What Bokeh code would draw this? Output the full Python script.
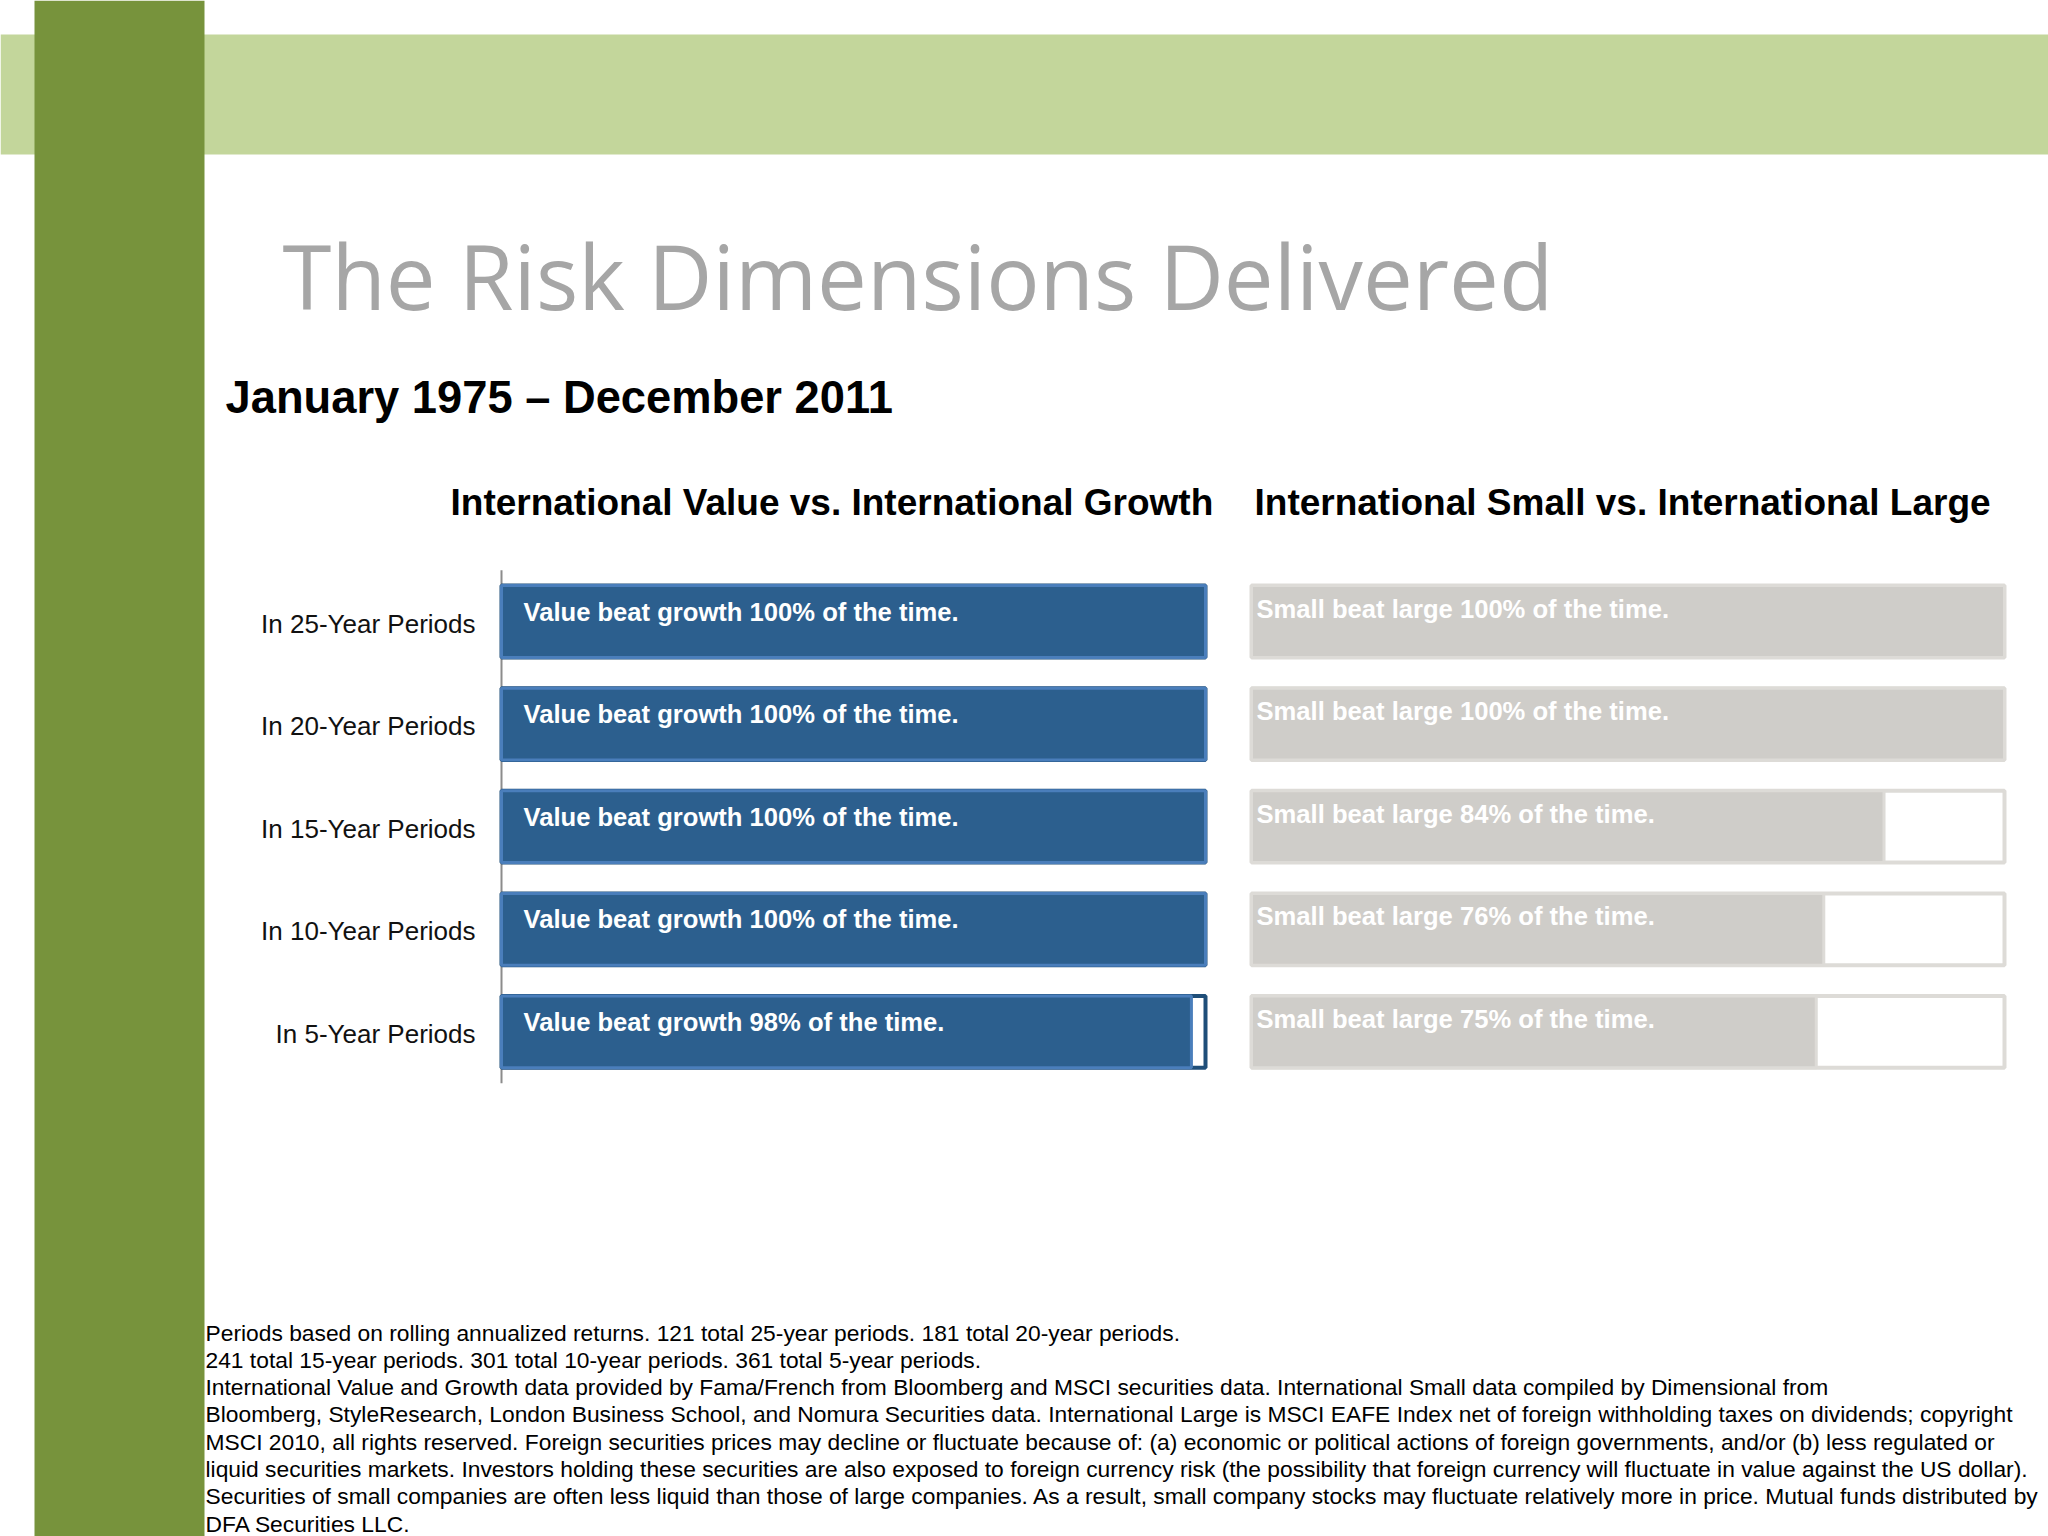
from bokeh.plotting import figure
from bokeh.models import Range1d
from bokeh.core.properties import value
from bokeh.embed import file_html
from bokeh.resources import INLINE

# ---------------- data ----------------
periods = ["In 25-Year Periods", "In 20-Year Periods", "In 15-Year Periods",
           "In 10-Year Periods", "In 5-Year Periods"]
value_beat_growth = [100, 100, 100, 100, 98]
small_beat_large = [100, 100, 84, 76, 75]
total_pct = [100, 100, 100, 100, 100]

main_title = "The Risk Dimensions Delivered"
subtitle = "January 1975 \u2013 December 2011"
left_title = "International Value vs. International Growth"
right_title = "International Small vs. International Large"

footnotes = [
    "Periods based on rolling annualized returns. 121 total 25-year periods. 181 total 20-year periods.",
    "241 total 15-year periods. 301 total 10-year periods. 361 total 5-year periods.",
    "International Value and Growth data provided by Fama/French from Bloomberg and MSCI securities data. International Small data compiled by Dimensional from",
    "Bloomberg, StyleResearch, London Business School, and Nomura Securities data. International Large is MSCI EAFE Index net of foreign withholding taxes on dividends; copyright",
    "MSCI 2010, all rights reserved. Foreign securities prices may decline or fluctuate because of: (a) economic or political actions of foreign governments, and/or (b) less regulated or",
    "liquid securities markets. Investors holding these securities are also exposed to foreign currency risk (the possibility that foreign currency will fluctuate in value against the US dollar).",
    "Securities of small companies are often less liquid than those of large companies. As a result, small company stocks may fluctuate relatively more in price. Mutual funds distributed by",
    "DFA Securities LLC.",
]

# ---------------- styling ----------------
DARK_GREEN = "#77933C"
LIGHT_GREEN = "#C3D69B"
TITLE_GRAY = "#A6A6A6"
BLUE = "#2C5F8E"
BLUE_EDGE = "#4A7EBB"
NAVY_EDGE = "#1F4E79"
GREY = "#CFCDC9"
GREY_EDGE = "#DDDBD7"
ARIAL = value("Liberation Sans")

W, H = 2048, 1536
PX0, PX1 = 0, W      # page x covered by the canvas
PY0, PY1 = 0, H      # page y covered by the canvas


def lin_range(p0, p1, v0, v1, lo, hi):
    k = (v1 - v0) / (p1 - p0)
    return Range1d(v0 + (lo - p0) * k, v0 + (hi - p0) * k)


p = figure(width=W, height=H, output_backend="svg", toolbar_location=None,
           x_range=Range1d(PX0, PX1), y_range=Range1d(PY1, PY0),
           x_axis_location=None, y_axis_location=None, min_border=0)
p.grid.visible = False
p.outline_line_color = None
p.background_fill_color = "white"
p.border_fill_color = "white"

# scales for the two bar panels (percent) and the shared row scale
p.extra_x_ranges = {
    "lv": lin_range(501, 1205, 0, 100, PX0, PX1),
    "rv": lin_range(1251, 2004, 0, 100, PX0, PX1),
}
p.extra_y_ranges = {"cat": lin_range(621, 621 + 102.6, 0, 1, PY1, PY0)}

# ---------------- slide decoration ----------------
p.quad(left=PX0, right=PX1, top=34, bottom=154, fill_color=LIGHT_GREEN, line_color=None)
p.quad(left=34, right=204, top=PY0, bottom=PY1, fill_color=DARK_GREEN, line_color=None)

p.text(x=[282], y=[275], text=[main_title], text_font=value("Open Sans"),
       text_font_size="88.8px", text_color=TITLE_GRAY, text_baseline="middle")
p.text(x=[225], y=[397], text=[subtitle], text_font=ARIAL, text_font_style="bold",
       text_font_size="45.3px", text_color="black", text_baseline="middle")
p.text(x=[450, 1254], y=[502, 502], text=[left_title, right_title], text_font=ARIAL,
       text_font_style="bold", text_font_size="37px", text_color="black",
       text_baseline="middle")

# ---------------- bars ----------------
idx = list(range(len(periods)))
n = len(periods)

# axis line
p.segment(x0=[0], x1=[0], y0=[-0.5], y1=[n - 0.5], x_range_name="lv", y_range_name="cat",
          line_color="#8C8C8C", line_width=2)

# left panel: full-length frame + value bar
p.hbar(y=idx, left=0, right=total_pct, height=0.7, fill_color="white",
       line_color=NAVY_EDGE, line_width=4, x_range_name="lv", y_range_name="cat")
p.hbar(y=idx, left=0, right=value_beat_growth, height=0.7, fill_color=BLUE,
       line_color=BLUE_EDGE, line_width=3, x_range_name="lv", y_range_name="cat")
p.text(x=0, y=idx, text=[f"Value beat growth {v}% of the time." for v in value_beat_growth],
       x_offset=22, y_offset=-10, text_font=ARIAL, text_font_style="bold",
       text_font_size="25.6px", text_color="white", text_baseline="middle",
       x_range_name="lv", y_range_name="cat")

# right panel
p.hbar(y=idx, left=0, right=total_pct, height=0.7, fill_color="white",
       line_color=GREY_EDGE, line_width=4, x_range_name="rv", y_range_name="cat")
p.hbar(y=idx, left=0, right=small_beat_large, height=0.7, fill_color=GREY,
       line_color=GREY_EDGE, line_width=3, x_range_name="rv", y_range_name="cat")
p.text(x=0, y=idx, text=[f"Small beat large {v}% of the time." for v in small_beat_large],
       x_offset=5, y_offset=-13, text_font=ARIAL, text_font_style="bold",
       text_font_size="25.6px", text_color="white", text_baseline="middle",
       x_range_name="rv", y_range_name="cat")

# row labels
p.text(x=475, y=idx, text=periods, y_offset=2, text_font=ARIAL, text_font_size="26px",
       text_color="#111111", text_align="right", text_baseline="middle",
       y_range_name="cat")

# ---------------- footnotes ----------------
p.text(x=205, y=[1332 + 27.3 * i for i in range(len(footnotes))], text=footnotes,
       text_font=ARIAL, text_font_size="22.8px", text_color="black",
       text_baseline="middle")

open("out.html", "w").write(file_html(p, INLINE))
